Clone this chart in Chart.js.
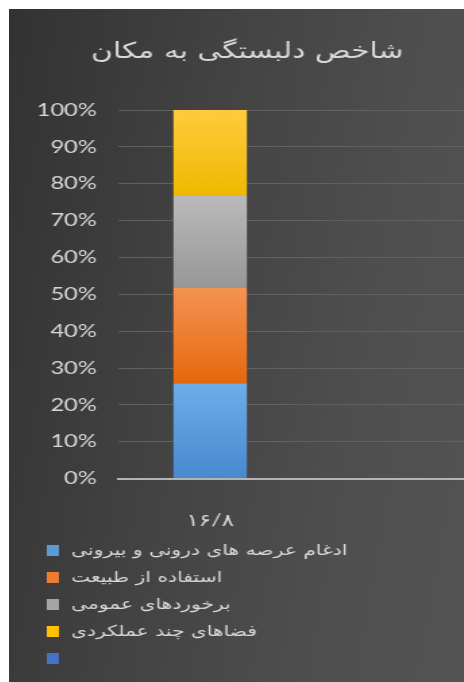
<!DOCTYPE html>
<html>
<head>
<meta charset="utf-8">
<script src="https://cdn.jsdelivr.net/npm/chart.js@4.4.1/dist/chart.umd.min.js"></script>
<style>
    html, body { margin: 0; padding: 0; background: #ffffff; }
    body { width: 464px; height: 682px; overflow: hidden; position: relative; }
    #panel {
        position: absolute; left: 9px; top: 9px; right: 0; bottom: 0;
        overflow: hidden;
        background: linear-gradient(100deg, #323232 0%, #434343 40%, #4f4f4f 75%, #535353 100%);
    }
    #stretch { width: 356px; height: 673px; transform: scaleX(1.35); transform-origin: 0 0; }
</style>
</head>
<body>
<div id="panel"><div id="stretch"><canvas id="chart" width="356" height="673"></canvas></div></div>
<script>
const chartTitle = "شاخص دلبستگی به مکان";
const categories = ["۱۶/۸", ""];
const seriesNames = [
    "ادغام عرصه های درونی و بیرونی",
    "استفاده از طبیعت",
    "برخوردهای عمومی",
    "فضاهای چند عملکردی",
    "",
];
const integrationValues = [25.9, null];
const natureValues = [25.8, null];
const encounterValues = [25.0, null];
const multiUseValues = [23.3, null];
const emptyValues = [null, null];
const yTicks = [0, 10, 20, 30, 40, 50, 60, 70, 80, 90, 100];

const SERIES_COLORS = [
    { top: "#6eaeea", bottom: "#4888cf", flat: "#5b9bd5" },
    { top: "#f49352", bottom: "#e6680e", flat: "#ed7d31" },
    { top: "#bababa", bottom: "#979797", flat: "#a5a5a5" },
    { top: "#ffcb3c", bottom: "#efb900", flat: "#ffc000" },
    { top: "#4a7bd6", bottom: "#3b68c0", flat: "#4472c4" },
];
const TEXT = "#d9d9d9";

const allValues = [integrationValues, natureValues, encounterValues, multiUseValues, emptyValues];

function segmentFill(seriesIndex) {
    const colors = SERIES_COLORS[seriesIndex];
    return (context) => {
        const chart = context.chart;
        const y = chart.scales && chart.scales.y;
        if (!chart.chartArea || !y || context.type !== "data") {
            return colors.flat;
        }
        const i = context.dataIndex;
        let start = 0;
        for (let s = 0; s < seriesIndex; s++) {
            start += allValues[s][i] || 0;
        }
        const end = start + (allValues[seriesIndex][i] || 0);
        const top = y.getPixelForValue(end);
        const bottom = y.getPixelForValue(start);
        if (!(bottom - top > 0)) {
            return colors.flat;
        }
        const gradient = chart.ctx.createLinearGradient(0, top, 0, bottom);
        gradient.addColorStop(0, colors.top);
        gradient.addColorStop(1, colors.bottom);
        return gradient;
    };
}

// legend drawn one entry per row, like the original
const stackedLegend = {
    id: "stackedLegend",
    afterDraw(chart) {
        const ctx = chart.ctx;
        ctx.save();
        ctx.font = '15px "DejaVu Sans"';
        ctx.textBaseline = "middle";
        ctx.textAlign = "left";
        chart.data.datasets.forEach((dataset, index) => {
            const y = 541 + index * 27;
            ctx.fillStyle = SERIES_COLORS[index].flat;
            ctx.fillRect(28, y - 5, 9, 11);
            ctx.fillStyle = TEXT;
            ctx.fillText(dataset.label, 46, y + 1);
        });
        ctx.restore();
    },
};

const datasets = seriesNames.map((name, index) => ({
    label: name,
    data: allValues[index],
    backgroundColor: segmentFill(index),
    borderWidth: 0,
    categoryPercentage: 0.8,
    barPercentage: 0.5,
}));

new Chart(document.getElementById("chart"), {
    type: "bar",
    data: {
        labels: categories,
        datasets,
    },
    options: {
        responsive: false,
        devicePixelRatio: 1,
        animation: false,
        layout: {
            padding: { left: 0, right: 3, top: 0, bottom: 119 },
        },
        plugins: {
            legend: { display: false },
            tooltip: { enabled: false },
            title: {
                display: true,
                text: chartTitle,
                color: TEXT,
                font: { family: '"DejaVu Sans"', size: 22, weight: "normal", lineHeight: 1.2 },
                padding: { top: 30, bottom: 44.6 },
            },
        },
        scales: {
            x: {
                stacked: true,
                grid: { display: false, drawTicks: false },
                border: { display: true, color: "#b4b4b4", width: 2 },
                ticks: {
                    color: TEXT,
                    padding: 32,
                    font: { family: 'Lato, "DejaVu Sans"', size: 17 },
                },
            },
            y: {
                stacked: true,
                min: 0,
                max: 100,
                afterFit: (scale) => {
                    scale.width = 81;
                },
                afterBuildTicks: (scale) => {
                    scale.ticks = yTicks.map((value) => ({ value }));
                },
                grid: { color: "#616161", lineWidth: 1, drawTicks: false },
                border: { display: false },
                ticks: {
                    color: TEXT,
                    padding: 16,
                    font: { family: "Lato", size: 17.5 },
                    callback: (value) => value + "%",
                },
            },
        },
    },
    plugins: [stackedLegend],
});
</script>
</body>
</html>
